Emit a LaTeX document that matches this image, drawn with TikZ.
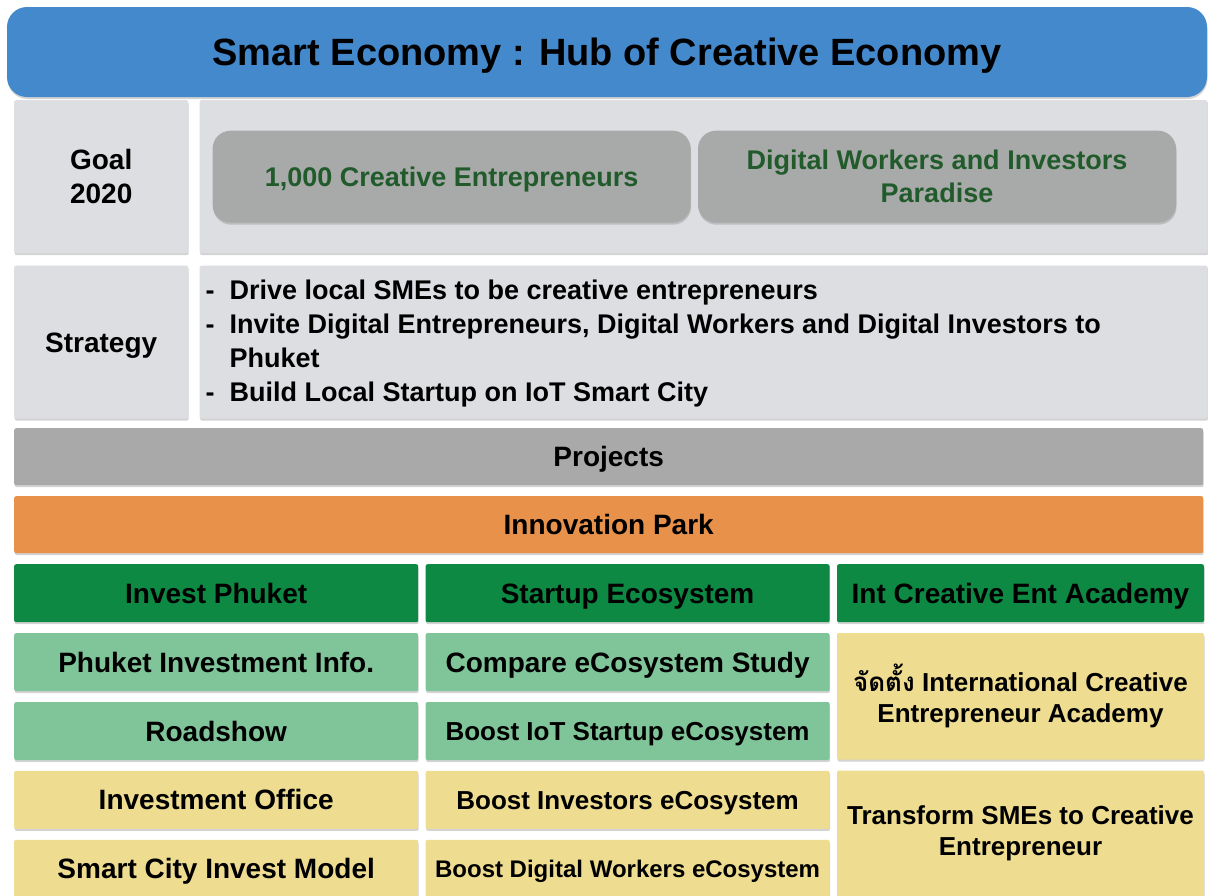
\documentclass[tikz,border=0pt]{standalone}
\usepackage{fontspec}
\setmainfont{Liberation Sans}
\newfontfamily\thaifont[Script=Thai]{Loma}
\usetikzlibrary{positioning, shadows}

\definecolor{titleblue}{RGB}{67,137,204}
\definecolor{panelgray}{RGB}{221,222,226}
\definecolor{goalgray}{RGB}{168,170,169}
\definecolor{goalgreen}{RGB}{33,90,43}
\definecolor{projgray}{RGB}{169,169,169}
\definecolor{parkorange}{RGB}{232,145,74}
\definecolor{headgreen}{RGB}{13,137,68}
\definecolor{cellgreen}{RGB}{128,196,154}
\definecolor{cellyellow}{RGB}{238,220,144}

\begin{document}
\begin{tikzpicture}[
      x=1pt, y=-1pt,
      node distance=10.5pt and 7pt,
      box/.style={
          rectangle,
          rounded corners=2pt,
          align=center,
          inner sep=0pt,
          font=\fontsize{28}{34}\selectfont\bfseries,
          drop shadow={shadow xshift=0.5pt, shadow yshift=-2pt, opacity=0.35}
        },
      oneline/.style={
          text height=#1,
          text depth=0pt
        },
      oneline/.default=20pt,
      titlebar/.style={
          box,
          oneline=27.2pt,
          rounded corners=20pt,
          fill=titleblue,
          minimum width=1200,
          minimum height=90,
          font=\fontsize{38}{44}\selectfont\bfseries
        },
      sidebox/.style={
          box,
          fill=panelgray,
          minimum width=174,
          minimum height=153
        },
      panel/.style={
          box,
          fill=panelgray,
          minimum width=1008,
          minimum height=153
        },
      goalbox/.style={
          box,
          rounded corners=18pt,
          fill=goalgray,
          text=goalgreen,
          minimum width=478,
          minimum height=92,
          font=\fontsize{27}{33}\selectfont\bfseries
        },
      bar/.style={
          box,
          oneline,
          minimum width=1189,
          minimum height=57
        },
      head/.style={
          box,
          oneline,
          fill=headgreen,
          minimum width=404,
          minimum height=58
        },
      greencell/.style={
          box,
          oneline,
          fill=cellgreen,
          minimum width=404,
          minimum height=58
        },
      yellowcell/.style={
          box,
          oneline,
          fill=cellyellow,
          minimum width=404,
          minimum height=58
        },
      tallcell/.style={
          box,
          fill=cellyellow,
          minimum width=367,
          minimum height=126.5,
          font=\fontsize{26}{31}\selectfont\bfseries
        }
    ]
    \useasboundingbox (0,0) rectangle (1208,895);

    % Title
    \node[titlebar] (title) at (607,52) {Smart Economy : Hub of Creative Economy};

    % Goal
    \node[sidebox, anchor=north west] (goal) at (14,100) {Goal\\2020};
    \node[panel, right=11pt of goal] (goalpanel) {};
    \node[goalbox, oneline=19.4pt, anchor=west] (creative) at ([xshift=13pt]goalpanel.west) {1,000 Creative Entrepreneurs};
    \node[goalbox, right=7pt of creative] (paradise) {Digital Workers and Investors\\Paradise};

    % Strategy
    \node[sidebox, oneline, below=12pt of goal] (strategy) {Strategy};
    \node[panel, right=11pt of strategy] (stratpanel) {};
    \node[anchor=west, align=left, inner sep=0pt,
          font=\fontsize{27}{34}\selectfont\bfseries] (strattext) at ([xshift=6pt,yshift=-1pt]stratpanel.west)
        {\makebox[24pt][l]{-}Drive local SMEs to be creative entrepreneurs\\
         \makebox[24pt][l]{-}Invite Digital Entrepreneurs, Digital Workers and Digital Investors to\\
         \hspace*{24pt}Phuket\\
         \makebox[24pt][l]{-}Build Local Startup on IoT Smart City};

    % Projects
    \node[bar, fill=projgray, anchor=north west] (projects) at (14,428) {Projects};
    \node[bar, fill=parkorange, below=10.5pt of projects] (park) {Innovation Park};

    % Columns
    \node[head, anchor=north west] (invest) at (14,564) {Invest Phuket};
    \node[head, right=of invest] (startup) {Startup Ecosystem};
    \node[head, right=of startup, minimum width=367] (academy) {Int Creative Ent Academy};

    \node[greencell, below=of invest] (info) {Phuket Investment Info.};
    \node[greencell, below=of info] (roadshow) {Roadshow};
    \node[yellowcell, below=of roadshow] (office) {Investment Office};
    \node[yellowcell, below=of office] (model) {Smart City Invest Model};

    \node[greencell, below=of startup] (compare) {Compare eCosystem Study};
    \node[greencell, oneline=18.6pt, below=of compare, font=\fontsize{26}{31}\selectfont\bfseries] (iot) {Boost IoT Startup eCosystem};
    \node[yellowcell, oneline=18.6pt, below=of iot, font=\fontsize{26}{31}\selectfont\bfseries] (investors) {Boost Investors eCosystem};
    \node[yellowcell, oneline=17.2pt, below=of investors, font=\fontsize{24}{30}\selectfont\bfseries] (workers) {Boost Digital Workers eCosystem};

    \node[tallcell, below=of academy] (found)
        {{\thaifont จัดตั้ง} International Creative\\Entrepreneur Academy};
    \node[tallcell, below=of found] (transform)
        {Transform SMEs to Creative\\Entrepreneur};
  \end{tikzpicture}
\end{document}
